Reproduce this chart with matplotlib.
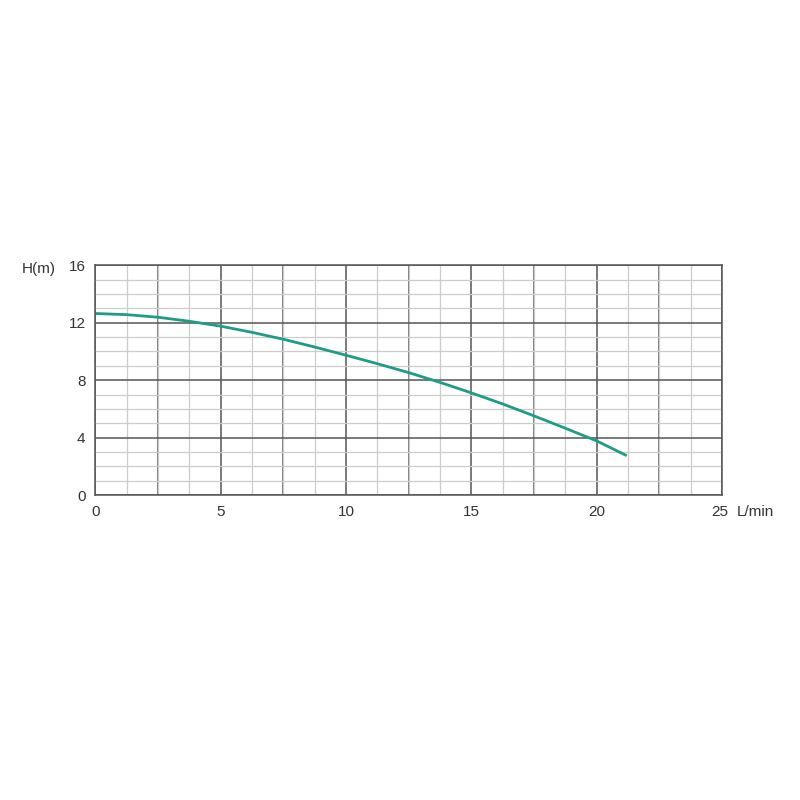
import matplotlib
matplotlib.use('Agg')
import matplotlib.pyplot as plt
from matplotlib.ticker import MultipleLocator
from matplotlib.transforms import ScaledTranslation

plt.rcParams['font.family'] = ['Liberation Sans', 'DejaVu Sans']

# pump curve
flow = [0, 1.25, 2.5, 3.75, 5, 6.25, 7.5, 8.75, 10, 11.25, 12.5, 13.75, 15, 16.25, 17.5, 18.75, 20, 21.2]
head = [12.64, 12.56, 12.38, 12.1, 11.76, 11.33, 10.85, 10.31, 9.74, 9.15, 8.53, 7.85, 7.12, 6.35, 5.52, 4.66, 3.78, 2.75]

xTicks = [0, 5, 10, 15, 20, 25]
yTicks = [0, 4, 8, 12, 16]
xHalf = [2.5, 7.5, 12.5, 17.5, 22.5]

fig = plt.figure(figsize=(8, 8), dpi=100)
ax = fig.add_axes([0.119, 0.381, 0.7835, 0.2875])

ax.set_xlim(0, 25)
ax.set_ylim(0, 16)

# grid: minor light, major dark
ax.xaxis.set_minor_locator(MultipleLocator(1.25))
ax.yaxis.set_minor_locator(MultipleLocator(1))
ax.grid(which='minor', color='#cccccc', linewidth=0.9)
ax.grid(which='major', color='#555555', linewidth=1.1)
ax.set_axisbelow(True)

ax.set_xticks(xTicks)
ax.set_xticklabels([str(t) for t in xTicks])
ax.set_yticks(yTicks)
ax.set_yticklabels([str(t) for t in yTicks])

# dark vertical lines at the half steps too
for xv in xHalf:
    ax.axvline(xv, color='#555555', linewidth=1.1, zorder=0.5)

ax.tick_params(which='both', length=0, labelsize=11, colors='#333333', pad=7)

# last x label sits a bit left of its line
lastLbl = ax.get_xticklabels()[-1]
lastLbl.set_transform(lastLbl.get_transform() + ScaledTranslation(-0.025, 0, fig.dpi_scale_trans))

for s in ax.spines.values():
    s.set_color('#555555')
    s.set_linewidth(1.1)

ax.plot(flow, head, color='#1f9c86', linewidth=2.0, solid_capstyle='butt')

fig.text(0.921, 0.3604, 'L/min', fontsize=11, color='#333333', ha='left', va='center')
fig.text(0.048, 0.664, 'H(m)', fontsize=11, color='#333333', ha='center', va='center')

fig.savefig('out.png', dpi=100, facecolor='white')
